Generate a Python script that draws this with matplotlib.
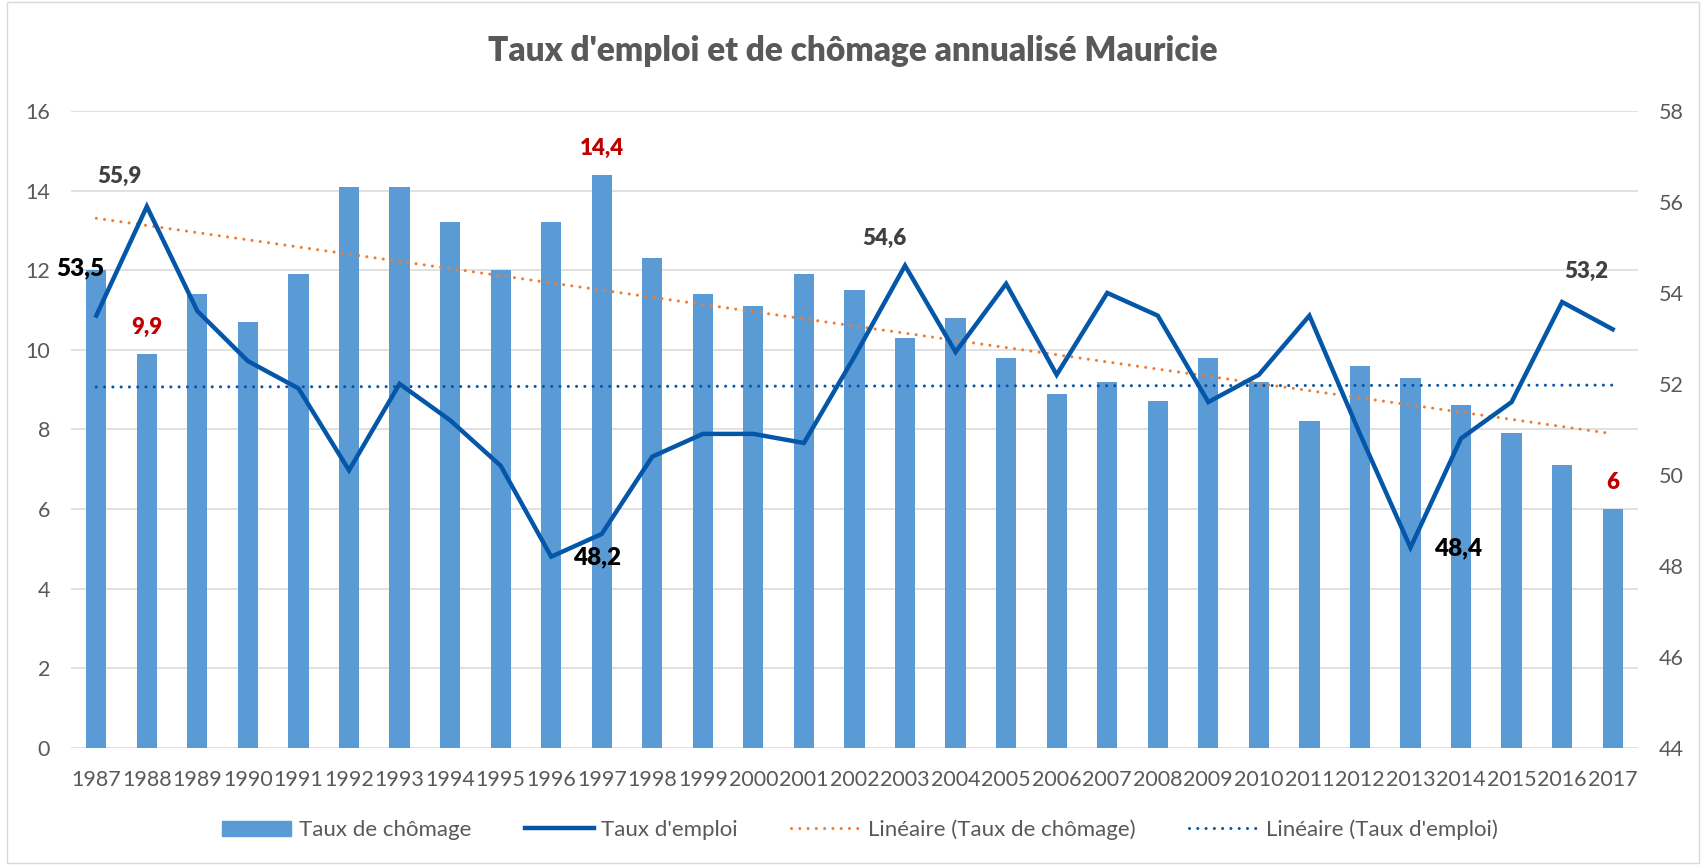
import numpy as np
import matplotlib
matplotlib.use("Agg")
import matplotlib.pyplot as plt
from matplotlib.patches import Rectangle
from matplotlib.lines import Line2D

plt.rcParams['font.family'] = ['Lato', 'DejaVu Sans']

# --------------------------------------------------
# Données
# --------------------------------------------------
annees = [str(a) for a in range(1987, 2018)]

taux_chomage = [12.0, 9.9, 11.4, 10.7, 11.9, 14.1, 14.1, 13.2, 12.0, 13.2,
                14.4, 12.3, 11.4, 11.1, 11.9, 11.5, 10.3, 10.8, 9.8, 8.9,
                9.2, 8.7, 9.8, 9.2, 8.2, 9.6, 9.3, 8.6, 7.9, 7.1, 6.0]

taux_emploi = [53.5, 55.9, 53.6, 52.5, 51.9, 50.1, 52.0, 51.2, 50.2, 48.2,
               48.7, 50.4, 50.9, 50.9, 50.7, 52.6, 54.6, 52.7, 54.2, 52.2,
               54.0, 53.5, 51.6, 52.2, 53.5, 50.9, 48.4, 50.8, 51.6, 53.8, 53.2]

# étiquettes : (année, série, couleur, taille, décalage x, décalage y en pixels)
etiquettes = [
    ("1987", "emploi", "black", 17.5, -16, 47),
    ("1988", "emploi", "#404040", 16, -27, 30),
    ("2003", "emploi", "#404040", 16, -21, 27),
    ("2017", "emploi", "#404040", 16, -26, 58),
    ("1996", "emploi", "black", 17.5, 46, -1),
    ("2013", "emploi", "black", 17.5, 48, -1),
    ("1988", "chomage", "#C00000", 16, 0, 26),
    ("1997", "chomage", "#C00000", 16, 0, 26),
    ("2017", "chomage", "#C00000", 16, 0, 26),
]

x = np.arange(len(annees))
bleu_barre = '#5B9BD5'
bleu_ligne = '#0457A8'
orange = '#ED7D31'
gris = '#595959'

fig = plt.figure(figsize=(17.03, 8.65), dpi=100)
ax = fig.add_axes([0.0417, 0.1356, 0.9201, 0.7361])
ax2 = ax.twinx()

# barres
ax.bar(x, taux_chomage, width=0.40, color=bleu_barre, zorder=2,
       label='Taux de chômage')

# tendances linéaires
p_ch = np.polyfit(x, taux_chomage, 1)
p_em = np.polyfit(x, taux_emploi, 1)
pointille = (0, (0.01, 2.7))
ax.plot(x, np.polyval(p_ch, x), color=orange, lw=2.2, linestyle=pointille,
        dash_capstyle='round', zorder=3)
ax2.plot(x, taux_emploi, color=bleu_ligne, lw=3.2, solid_joinstyle='miter', zorder=3)
ax2.plot(x, np.polyval(p_em, x), color=bleu_ligne, lw=2.2, linestyle=pointille,
         dash_capstyle='round', zorder=2)

# axes
ax.set_xlim(-0.5, len(annees) - 0.5)
ax.set_ylim(0, 16)
ax.set_yticks(range(0, 17, 2))
ax2.set_ylim(44, 58)
ax2.set_yticks(range(44, 59, 2))
ax.set_xticks(x)
ax.set_xticklabels(annees)
ax.grid(axis='y', color='#D9D9D9', lw=1.1, zorder=0)
ax.set_axisbelow(True)
for a in (ax, ax2):
    for s in a.spines.values():
        s.set_visible(False)
ax.tick_params(axis='both', length=0, labelsize=15.5, colors=gris)
ax.tick_params(axis='y', pad=15)
ax.tick_params(axis='x', pad=16)
ax2.tick_params(axis='y', length=0, labelsize=15.5, colors=gris, pad=15)

# étiquettes de données
def fmt(v):
    return ('%g' % v).replace('.', ',')

for annee, serie, couleur, taille, dx, dy in etiquettes:
    i = annees.index(annee)
    cible = ax2 if serie == "emploi" else ax
    v = taux_emploi[i] if serie == "emploi" else taux_chomage[i]
    cible.annotate(fmt(v), xy=(i, v), xytext=(dx, dy), textcoords='offset pixels',
                   ha='center', va='center', fontsize=taille, fontweight='heavy',
                   color=couleur, zorder=5)

fig.text(0.5006, 0.941, "Taux d'emploi et de chômage annualisé Mauricie",
         ha='center', va='center', fontsize=24, fontweight='heavy', color=gris)

# légende
poignees = [
    Rectangle((0, 0), 1, 1, color=bleu_barre),
    Line2D([], [], color=bleu_ligne, lw=3.2),
    Line2D([], [], color=orange, lw=2.2, linestyle=pointille, dash_capstyle='round'),
    Line2D([], [], color=bleu_ligne, lw=2.2, linestyle=pointille, dash_capstyle='round'),
]
noms = ['Taux de chômage', "Taux d'emploi", 'Linéaire (Taux de chômage)',
        "Linéaire (Taux d'emploi)"]
leg = fig.legend(poignees, noms, loc='center', bbox_to_anchor=(0.505, 0.0405),
                 ncol=4, frameon=False, fontsize=16, handlelength=3.1,
                 handletextpad=0.35, columnspacing=2.4)
for t in leg.get_texts():
    t.set_color(gris)

# cadre du graphique
fig.patches.append(Rectangle((0.0041, 0.002), 0.9935, 0.996, transform=fig.transFigure,
                             fill=False, edgecolor='#D9D9D9', lw=1))

fig.savefig('out.png', dpi=100)
